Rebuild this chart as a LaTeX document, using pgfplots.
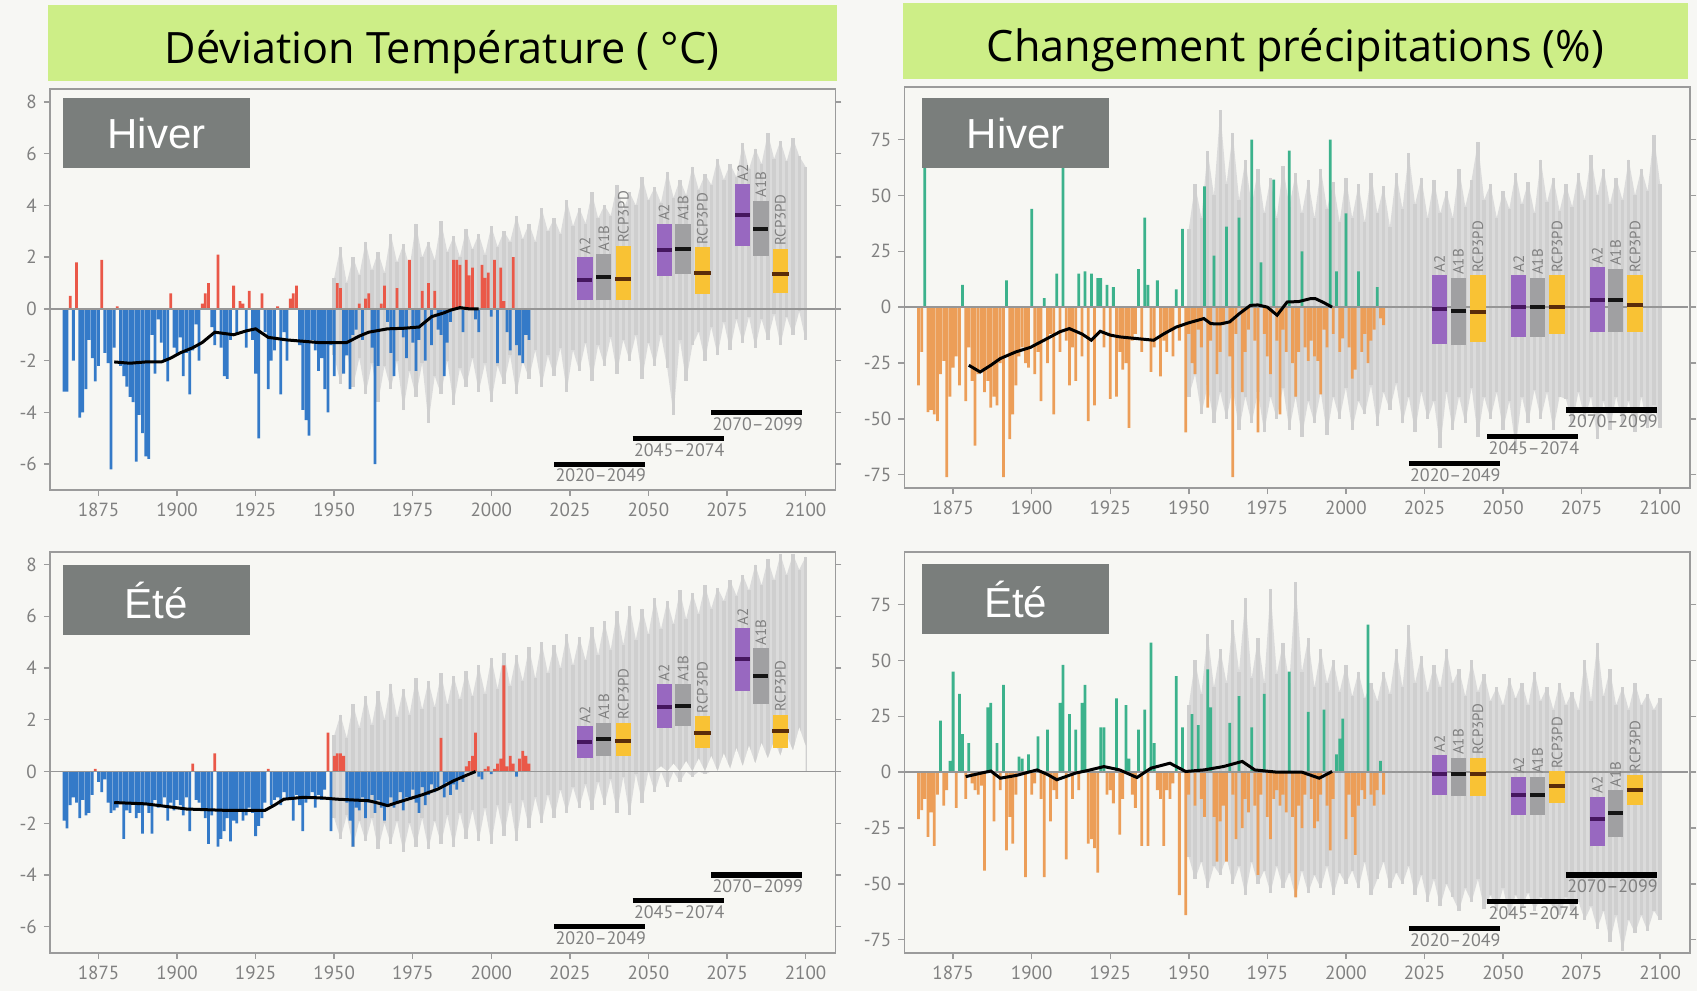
\documentclass[border=0pt]{standalone}
\usepackage{fontspec}
\setmainfont{PT Sans}
\newfontfamily\headfont{Open Sans}
\newfontfamily\labfont{Liberation Sans}
\usepackage{pgfplots}
\pgfplotsset{compat=1.18}
\usepackage{pgfplotstable}

\definecolor{pagebg}{RGB}{247,247,244}
\definecolor{bgc}{RGB}{247,247,243}
\definecolor{framec}{RGB}{155,155,155}
\definecolor{tickc}{RGB}{128,128,128}
\definecolor{headgreen}{RGB}{205,238,135}
\definecolor{labbox}{RGB}{122,126,124}
\definecolor{warm}{RGB}{234,88,72}
\definecolor{cold}{RGB}{52,122,200}
\definecolor{wet}{RGB}{60,178,140}
\definecolor{dry}{RGB}{236,158,88}
\definecolor{ensl}{RGB}{219,219,219}
\definecolor{ensd}{RGB}{207,207,207}
\definecolor{zeroc}{RGB}{150,150,150}
\definecolor{bA2}{RGB}{152,104,192}
\definecolor{mA2}{RGB}{70,22,95}
\definecolor{bA1B}{RGB}{160,160,162}
\definecolor{mA1B}{RGB}{20,20,20}
\definecolor{bRCP}{RGB}{249,194,52}
\definecolor{mRCP}{RGB}{90,45,10}

% observed seasonal anomalies: temperature (winter, summer), precipitation (winter, summer)
\pgfplotstableread{
yr th te ph pe
1864 -3.2 -1.9 -35 -21
1865 -3.2 -2.2 -20 -17
1866 0.5 -1.3 68 -12
1867 -2.0 -1.0 -47 -29
1868 1.8 -1.2 -46 -18
1869 -4.2 -1.8 -48 -33
1870 -4.0 -1.1 -51 -10
1871 -3.1 -1.7 -30 23
1872 -1.2 -1.6 -24 -15
1873 -1.9 -0.9 -76 -8
1874 -2.8 0.1 -40 5
1875 -2.2 -0.4 -27 45
1876 1.9 -0.8 -22 -16
1877 -1.7 -0.3 -35 35
1878 -2.1 -1.2 10 17
1879 -6.2 -1.6 -42 -12
1880 -1.5 -1.5 -18 13
1881 0.1 -1.4 -33 -5
1882 -2.2 -1.2 -62 -8
1883 -2.6 -2.6 -30 -10
1884 -3.0 -1.5 -28 -6
1885 -3.4 -1.6 -38 -44
1886 -3.6 -1.2 -33 29
1887 -5.9 -1.8 -45 31
1888 -4.1 -1.6 -40 -22
1889 -4.8 -2.4 -44 13
1890 -5.7 -1.3 -25 -8
1891 -5.8 -1.6 -76 39
1892 -1.0 -2.4 12 -35
1893 -2.5 -1.1 -59 -20
1894 -0.4 -1.4 -48 -32
1895 -1.3 -1.3 -35 -10
1896 -2.0 -1.0 -22 7
1897 -2.8 -1.9 -18 6
1898 0.6 -1.2 -25 -47
1899 -1.5 -1.5 -27 8
1900 -1.8 -1.1 44 -10
1901 -1.1 -1.3 -30 -5
1902 -2.6 -1.7 -20 16
1903 -1.7 -1.0 -42 -12
1904 -3.3 -2.3 4 -47
1905 -1.6 0.3 -25 19
1906 -0.6 -1.1 -12 -22
1907 -2.0 -1.2 -48 -8
1908 0.2 -1.5 15 -12
1909 0.6 -1.8 -20 31
1910 1.0 -2.8 64 48
1911 -0.7 -1.7 -15 -39
1912 -1.4 0.7 -35 26
1913 2.1 -2.9 -18 -12
1914 -1.5 -2.6 -33 19
1915 -2.6 -2.3 15 -8
1916 -2.7 -1.8 -22 31
1917 -1.2 -2.7 16 39
1918 0.9 -1.9 -51 -32
1919 -1.0 -2.0 15 -30
1920 0.3 -1.5 -44 -34
1921 0.2 -1.9 13 -45
1922 -1.5 -1.7 13 20
1923 0.7 -1.4 -18 20
1924 -1.2 -1.6 10 -10
1925 -2.5 -2.5 -41 -8
1926 -5.0 -2.1 9 -14
1927 0.6 -1.8 -40 33
1928 -0.9 -1.2 -20 -28
1929 -3.1 0.1 -28 -12
1930 -2.0 -1.3 -25 30
1931 -1.6 -1.1 -54 6
1932 0.1 -1.0 -15 -10
1933 -3.3 -1.3 -12 -16
1934 -0.9 -0.8 17 19
1935 -2.0 -1.1 -20 -33
1936 0.4 -1.0 40 28
1937 0.6 -1.9 10 -33
1938 0.9 -0.9 -29 58
1939 -1.4 -1.3 -18 13
1940 -3.9 -2.3 12 -8
1941 -4.3 -1.2 -31 -12
1942 -4.9 -1.0 -15 -33
1943 -1.2 -0.8 -20 -8
1944 -1.6 -1.4 -10 -12
1945 -2.4 -0.9 -22 -5
1946 -1.9 -1.1 8 43
1947 -3.1 -0.7 -15 -55
1948 -4.0 1.5 35 20
1949 -1.4 -2.3 -56 -64
1950 -2.6 0.6 -12 -10
1951 1.0 0.7 -25 26
1952 0.8 0.7 -30 -15
1953 -2.5 0.6 -10 21
1954 -1.8 -1.2 -18 -12
1955 -3.1 -1.9 54 -20
1956 -1.0 -2.9 -45 46
1957 -0.8 -1.4 -15 29
1958 0.2 -1.5 23 -20
1959 -1.2 -1.0 -30 -40
1960 0.4 -1.8 -20 -22
1961 0.6 -1.2 -8 -15
1962 -1.5 -0.9 36 -40
1963 -6.0 -1.6 -22 22
1964 -2.2 -1.1 -76 -10
1965 0.2 -1.4 -12 -30
1966 0.9 -1.9 40 34
1967 -0.5 -1.3 -38 -25
1968 -1.7 -1.0 -20 -12
1969 -2.6 -1.4 -10 -18
1970 0.8 -1.2 75 20
1971 -0.8 -0.8 -15 -15
1972 -1.1 -1.5 -56 -46
1973 -1.9 -1.0 20 -10
1974 1.9 -1.1 -12 35
1975 -1.3 -0.7 -22 -20
1976 -2.4 -1.2 -30 -30
1977 -1.2 -1.6 57 -12
1978 0.7 -0.6 -15 -8
1979 -2.0 -1.3 -48 -15
1980 1.0 -0.9 -10 -10
1981 -1.4 -0.5 -20 -18
1982 0.7 -0.8 70 45
1983 -0.8 -0.6 -25 -20
1984 -1.0 1.3 -40 -56
1985 -2.6 -1.0 -20 -15
1986 -1.3 -0.4 25 -25
1987 -0.5 -0.9 -18 -10
1988 1.9 -0.5 -24 27
1989 1.9 -0.7 -15 -12
1990 1.7 -0.3 -22 -25
1991 -0.9 -0.4 -24 -22
1992 1.9 0.2 -39 -10
1993 1.3 0.4 -10 28
1994 1.6 0.6 -18 -15
1995 -0.4 1.5 75 -35
1996 -0.9 -0.2 -12 -12
1997 1.7 -0.3 16 8
1998 1.2 0.1 -20 15
1999 1.4 0.2 -14 24
2000 -0.3 -0.1 42 -30
2001 1.9 0.1 -18 -10
2002 -2.1 0.3 -32 -20
2003 1.6 0.5 -28 -37
2004 0.3 4.1 16 -15
2005 -0.9 0.2 -20 -8
2006 -1.6 0.6 -12 -12
2007 2.0 0.3 -25 66
2008 -1.4 -0.2 -15 -10
2009 -1.8 0.5 -10 -15
2010 -2.1 0.8 9 -8
2011 -1.0 0.6 -5 5
2012 -1.2 0.3 -8 -10
}\obs

% model ensemble envelopes (upper / lower)
\pgfplotstableread{
yr up lo
1950 1.2 -1.8
1952 2.4 -2.9
1954 1.0 -1.6
1956 2.0 -3.0
1958 1.3 -1.9
1960 2.6 -3.3
1962 1.5 -2.1
1964 2.2 -3.6
1966 1.4 -2.2
1968 2.9 -3.1
1970 1.8 -2.0
1972 2.5 -3.9
1974 1.6 -2.4
1976 3.3 -3.4
1978 2.0 -2.1
1980 2.6 -4.4
1982 1.9 -2.6
1984 3.4 -3.3
1986 2.2 -2.0
1988 2.8 -3.7
1990 2.0 -2.3
1992 3.1 -3.0
1994 2.3 -1.9
1996 2.9 -3.2
1998 2.1 -2.1
2000 3.2 -3.6
2002 2.4 -2.2
2004 3.0 -2.9
2006 2.6 -1.8
2008 3.6 -3.3
2010 2.7 -2.0
2012 3.3 -2.7
2014 2.6 -1.6
2016 3.9 -3.0
2018 3.0 -1.8
2020 3.5 -2.6
2022 2.9 -1.5
2024 4.2 -3.2
2026 3.2 -1.6
2028 3.9 -2.4
2030 3.3 -1.3
2032 4.5 -2.8
2034 3.5 -1.4
2036 4.0 -2.2
2038 3.6 -1.1
2040 4.8 -2.5
2042 3.8 -1.2
2044 4.5 -2.0
2046 4.0 -1.0
2048 5.1 -2.7
2050 4.2 -1.3
2052 4.7 -2.2
2054 4.1 -1.0
2056 5.3 -2.3
2058 4.3 -4.1
2060 5.0 -1.2
2062 4.4 -2.8
2064 5.5 -1.4
2066 4.6 -0.9
2068 5.2 -2.0
2070 4.8 -0.7
2072 5.8 -1.8
2074 5.0 -0.5
2076 5.6 -1.6
2078 5.1 -0.4
2080 6.4 -1.3
2082 5.4 -0.3
2084 6.2 -1.5
2086 5.6 -0.4
2088 6.8 -1.2
2090 5.8 -0.2
2092 6.5 -1.4
2094 5.7 -0.3
2096 6.6 -1.0
2098 5.9 -0.1
2100 5.5 -1.2
}\gth

\pgfplotstableread{
yr up lo
1950 1.4 -1.8
1952 2.2 -2.6
1954 1.3 -1.7
1956 2.6 -2.9
1958 1.7 -1.9
1960 2.9 -2.7
1962 1.8 -1.8
1964 3.1 -3.0
1966 2.0 -2.0
1968 3.4 -2.8
1970 2.1 -1.9
1972 3.2 -3.1
1974 2.2 -2.0
1976 3.6 -2.9
1978 2.4 -1.8
1980 3.5 -3.0
1982 2.5 -1.9
1984 3.8 -2.8
1986 2.6 -1.7
1988 3.7 -2.9
1990 2.8 -1.6
1992 3.9 -2.6
1994 2.9 -1.5
1996 4.1 -2.7
1998 3.0 -1.4
2000 4.4 -2.8
2002 3.2 -1.3
2004 4.6 -2.5
2006 3.3 -1.2
2008 4.5 -2.7
2010 3.5 -1.1
2012 4.8 -2.2
2014 3.6 -1.0
2016 5.0 -2.0
2018 3.8 -0.9
2020 4.9 -1.8
2022 4.0 -0.7
2024 5.3 -1.6
2026 4.1 -0.6
2028 5.2 -1.4
2030 4.3 -0.5
2032 5.6 -1.5
2034 4.5 -0.4
2036 5.8 -1.3
2038 4.7 -0.3
2040 6.2 -1.6
2042 4.9 -0.2
2044 6.4 -1.7
2046 5.1 -0.1
2048 6.3 -1.2
2050 5.3 0.0
2052 6.7 -0.8
2054 5.5 0.2
2056 6.6 -0.6
2058 5.7 0.3
2060 7.0 -0.4
2062 5.9 0.4
2064 6.9 -0.2
2066 6.1 0.5
2068 7.2 -0.1
2070 6.3 0.6
2072 7.1 0.0
2074 6.6 0.7
2076 7.4 0.1
2078 6.8 0.9
2080 7.6 0.2
2082 7.0 1.0
2084 8.0 0.3
2086 7.2 1.1
2088 8.2 0.5
2090 7.4 1.2
2092 8.4 0.6
2094 7.6 1.4
2096 8.4 0.8
2098 7.8 1.7
2100 8.3 1.0
}\gte

\pgfplotstableread{
yr up lo
1950 35 -40
1952 55 -30
1954 40 -48
1956 70 -35
1958 50 -52
1960 88 -38
1962 55 -50
1964 78 -36
1966 48 -55
1968 66 -40
1970 45 -52
1972 62 -38
1974 42 -56
1976 58 -40
1978 40 -50
1980 63 -36
1982 45 -55
1984 60 -40
1986 42 -58
1988 57 -42
1990 40 -52
1992 62 -38
1994 44 -57
1996 56 -40
1998 38 -50
2000 58 -36
2002 40 -55
2004 55 -42
2006 38 -48
2008 60 -35
2010 42 -53
2012 54 -38
2014 36 -46
2016 60 -34
2018 44 -52
2020 69 -40
2022 46 -56
2024 58 -38
2026 40 -50
2028 57 -42
2030 42 -63
2032 52 -38
2034 40 -55
2036 62 -40
2038 45 -52
2040 57 -36
2042 74 -58
2044 48 -40
2046 55 -50
2048 40 -38
2050 52 -55
2052 44 -42
2054 60 -63
2056 46 -40
2058 56 -52
2060 42 -37
2062 66 -50
2064 47 -38
2066 58 -55
2068 43 -40
2070 55 -41
2072 45 -52
2074 60 -38
2076 48 -50
2078 68 -40
2080 50 -59
2082 62 -42
2084 46 -55
2086 58 -40
2088 48 -52
2090 66 -42
2092 50 -56
2094 62 -40
2096 52 -54
2098 77 -44
2100 55 -54
}\gph

\pgfplotstableread{
yr up lo
1950 30 -38
1952 50 -48
1954 35 -40
1956 62 -52
1958 38 -42
1960 55 -46
1962 40 -38
1964 68 -50
1966 45 -42
1968 78 -55
1970 42 -40
1972 60 -50
1974 40 -44
1976 82 -54
1978 44 -42
1980 58 -52
1982 40 -45
1984 85 -56
1986 45 -44
1988 60 -54
1990 38 -46
1992 55 -52
1994 40 -42
1996 50 -55
1998 36 -45
2000 48 -50
2002 34 -44
2004 45 -52
2006 33 -40
2008 40 -55
2010 32 -48
2012 45 -40
2014 35 -52
2016 55 -45
2018 38 -50
2020 66 -42
2022 40 -55
2024 52 -46
2026 36 -58
2028 48 -48
2030 38 -60
2032 55 -50
2034 40 -56
2036 46 -62
2038 34 -52
2040 50 -58
2042 36 -48
2044 44 -61
2046 32 -55
2048 38 -62
2050 30 -52
2052 42 -64
2054 33 -55
2056 40 -60
2058 30 -54
2060 45 -62
2062 32 -56
2064 38 -58
2066 28 -60
2068 40 -64
2070 30 -56
2072 36 -62
2074 28 -58
2076 50 -66
2078 32 -60
2080 58 -70
2082 34 -62
2084 46 -76
2086 30 -64
2088 38 -80
2090 28 -66
2092 40 -72
2094 30 -64
2096 35 -71
2098 28 -62
2100 33 -66
}\gpe

% ensemble band: light area between the envelopes, darker streaks on top,
% and the part between zero and a positive lower envelope wiped out again
\newcommand{\band}[1]{%
  \addplot[fill=ensl, draw=none] table[x=yr, y=up] {#1} \closedcycle;
  \addplot[fill=ensl, draw=none, y filter/.expression={y<0 ? y : 0}] table[x=yr, y=lo] {#1} \closedcycle;
  \addplot[ycomb, draw=ensd, line width=1.7pt] table[x=yr, y=up] {#1};
  \addplot[ycomb, draw=ensd, line width=1.7pt, y filter/.expression={y<0 ? y : 0}] table[x=yr, y=lo] {#1};
  \addplot[fill=bgc, draw=none, y filter/.expression={y>0 ? y : 0}] table[x=yr, y=lo] {#1} \closedcycle;
}
% box: fill, median colour, x left, x right, low, high, median, label, centre
\newcommand{\bx}[9]{%
  \addplot[draw=#1, line width=7.6pt] coordinates {(#9,#5) (#9,#6)};
  \addplot[draw=#2, line width=2pt] coordinates {(#3,#7) (#4,#7)};
  \node[rotate=90, anchor=west, inner sep=1.2pt, text=tickc, font=\fontsize{7.5}{7.5}\selectfont] at (axis cs:#9,#6) {#8};
}
% period bar: start, end, y, label
\newcommand{\per}[4]{%
  \addplot[black, line width=2.6pt] coordinates {(#1,#3) (#2,#3)};
  \node[anchor=north west, inner sep=0.5pt, yshift=-1.8pt, text=tickc, font=\fontsize{9}{9}\selectfont] at (axis cs:#1,#3) {#4};
}

\pgfplotsset{
  panel/.style={
    scale only axis, width=392.8pt, height=200.5pt,
    anchor=south west,
    axis background/.style={fill=bgc},
    axis line style={draw=framec, line width=0.9pt},
    every tick/.style={draw=framec, line width=0.7pt},
    tick align=outside, major tick length=3pt,
    xtick pos=left,
    xmin=1859.5, xmax=2109.5,
    xtick={1875,1900,...,2100},
    tick label style={text=tickc, font=\fontsize{9.5}{10}\selectfont},
    /pgf/number format/assume math mode=true,
    x tick label style={/pgf/number format/1000 sep={}},
    clip=true,
  },
  tpanel/.style={panel, ymin=-7.0, ymax=8.5, ytick={-6,-4,...,8}},
  ppanel/.style={panel, ymin=-81, ymax=98.4, ytick={-75,-50,...,75}},
  pos/.style={ybar, bar width=0.88, draw=none, y filter/.expression={y>0 ? y : nan}},
  neg/.style={ybar, bar width=0.88, draw=none, y filter/.expression={y<0 ? y : nan}},
}

\begin{document}
\begin{tikzpicture}
\fill[pagebg] (0,0) rectangle (848.5pt,495.5pt);

% ---------- temperature, winter
\begin{axis}[tpanel, at={(24.9pt,250.5pt)}]
\band{\gth}
\addplot[pos, fill=warm] table[x=yr, y=th] {\obs};
\addplot[neg, fill=cold] table[x=yr, y=th] {\obs};
\addplot[zeroc, line width=0.8pt] coordinates {(1859.5,0) (2109.5,0)};
\addplot[black, line width=1.5pt] coordinates {(1880,-2.05) (1885,-2.1) (1890,-2.05) (1895,-2.05) (1898,-1.9) (1901,-1.7) (1905,-1.5) (1908,-1.3) (1912,-0.9) (1915,-0.95) (1918,-1.0) (1922,-0.85) (1925,-0.77) (1929,-1.1) (1935,-1.2) (1940,-1.25) (1945,-1.3) (1950,-1.3) (1954,-1.3) (1958,-1.05) (1961,-0.9) (1967,-0.77) (1972,-0.75) (1977,-0.7) (1981,-0.3) (1985,-0.15) (1987,-0.05) (1990,0.05) (1993,0.0) (1996,0.0)};
\bx{bA2}{mA2}{2027.4}{2032.2}{0.33}{2.0}{1.10}{A2}{2029.8}
\bx{bA1B}{mA1B}{2033.4}{2038.2}{0.33}{2.13}{1.23}{A1B}{2035.8}
\bx{bRCP}{mRCP}{2039.4}{2044.6}{0.33}{2.45}{1.14}{RCP3PD}{2042.0}
\bx{bA2}{mA2}{2052.6}{2057.4}{1.29}{3.29}{2.26}{A2}{2055.0}
\bx{bA1B}{mA1B}{2058.6}{2063.4}{1.35}{3.29}{2.32}{A1B}{2061.0}
\bx{bRCP}{mRCP}{2064.6}{2069.8}{0.59}{2.38}{1.38}{RCP3PD}{2067.2}
\bx{bA2}{mA2}{2077.6}{2082.4}{2.45}{4.83}{3.63}{A2}{2080.0}
\bx{bA1B}{mA1B}{2083.4}{2088.2}{2.06}{4.19}{3.09}{A1B}{2085.8}
\bx{bRCP}{mRCP}{2089.4}{2094.6}{0.60}{2.33}{1.33}{RCP3PD}{2092.0}
\per{2020}{2049}{-6}{2020–2049}
\per{2045}{2074}{-5}{2045–2074}
\per{2070}{2099}{-4}{2070–2099}
\end{axis}

% ---------- precipitation, winter
\begin{axis}[ppanel, at={(452.2pt,251.4pt)}]
\band{\gph}
\addplot[pos, fill=wet] table[x=yr, y=ph] {\obs};
\addplot[neg, fill=dry] table[x=yr, y=ph] {\obs};
\addplot[zeroc, line width=0.8pt] coordinates {(1859,0) (2109,0)};
\addplot[black, line width=1.5pt] coordinates {(1880,-26) (1883.6,-29) (1887,-26) (1890,-23) (1895,-20) (1899.6,-18) (1905,-14) (1909,-11) (1912,-9.6) (1916,-12) (1919,-14.8) (1921.8,-10.8) (1925,-12.5) (1928,-13.3) (1933,-14) (1938.8,-14.8) (1942,-12) (1946,-8.9) (1950,-7) (1954.8,-5.1) (1957,-7.4) (1960,-7.5) (1963,-6.6) (1966,-3) (1969.6,0.8) (1972,1) (1975,0) (1978.1,-3.6) (1981.3,2.3) (1985,2.5) (1988.7,3.8) (1990.3,3.8) (1993,2) (1995.6,0)};
\bx{bA2}{mA2}{2027.4}{2032.2}{-16.3}{14.2}{-0.7}{A2}{2029.8}
\bx{bA1B}{mA1B}{2033.4}{2038.2}{-17.0}{13.2}{-1.9}{A1B}{2035.8}
\bx{bRCP}{mRCP}{2039.4}{2044.6}{-15.6}{14.2}{-2.2}{RCP3PD}{2042.0}
\bx{bA2}{mA2}{2052.6}{2057.4}{-13.3}{14.2}{0}{A2}{2055.0}
\bx{bA1B}{mA1B}{2058.6}{2063.4}{-13.3}{13.2}{0}{A1B}{2061.0}
\bx{bRCP}{mRCP}{2064.6}{2069.8}{-11.8}{14.2}{0}{RCP3PD}{2067.2}
\bx{bA2}{mA2}{2077.6}{2082.4}{-11.1}{17.9}{3.0}{A2}{2080.0}
\bx{bA1B}{mA1B}{2083.4}{2088.2}{-11.1}{17.2}{3.4}{A1B}{2085.8}
\bx{bRCP}{mRCP}{2089.4}{2094.6}{-11.1}{14.2}{1.1}{RCP3PD}{2092.0}
\per{2020}{2049}{-70}{2020–2049}
\per{2045}{2074}{-58}{2045–2074}
\per{2070}{2099}{-46}{2070–2099}
\end{axis}

% ---------- temperature, summer
\begin{axis}[tpanel, at={(24.9pt,19.2pt)}]
\band{\gte}
\addplot[pos, fill=warm] table[x=yr, y=te] {\obs};
\addplot[neg, fill=cold] table[x=yr, y=te] {\obs};
\addplot[zeroc, line width=0.8pt] coordinates {(1859.5,0) (2109.5,0)};
\addplot[black, line width=1.5pt] coordinates {(1880,-1.2) (1890,-1.25) (1903,-1.45) (1915,-1.5) (1928,-1.5) (1931,-1.3) (1934,-1.07) (1940,-1.0) (1946,-1.02) (1951,-1.07) (1956,-1.1) (1961,-1.13) (1965,-1.25) (1967,-1.32) (1970,-1.2) (1973.5,-1.07) (1978,-0.9) (1983,-0.68) (1988,-0.36) (1992,-0.15) (1995,0)};
\bx{bA2}{mA2}{2027.4}{2032.2}{0.53}{1.76}{1.14}{A2}{2029.8}
\bx{bA1B}{mA1B}{2033.4}{2038.2}{0.60}{1.89}{1.25}{A1B}{2035.8}
\bx{bRCP}{mRCP}{2039.4}{2044.6}{0.60}{1.89}{1.18}{RCP3PD}{2042.0}
\bx{bA2}{mA2}{2052.6}{2057.4}{1.69}{3.37}{2.50}{A2}{2055.0}
\bx{bA1B}{mA1B}{2058.6}{2063.4}{1.76}{3.37}{2.55}{A1B}{2061.0}
\bx{bRCP}{mRCP}{2064.6}{2069.8}{0.92}{2.15}{1.50}{RCP3PD}{2067.2}
\bx{bA2}{mA2}{2077.6}{2082.4}{3.10}{5.55}{4.33}{A2}{2080.0}
\bx{bA1B}{mA1B}{2083.4}{2088.2}{2.60}{4.78}{3.69}{A1B}{2085.8}
\bx{bRCP}{mRCP}{2089.4}{2094.6}{0.92}{2.20}{1.55}{RCP3PD}{2092.0}
\per{2020}{2049}{-6}{2020–2049}
\per{2045}{2074}{-5}{2045–2074}
\per{2070}{2099}{-4}{2070–2099}
\end{axis}

% ---------- precipitation, summer
\begin{axis}[ppanel, at={(452.2pt,18.9pt)}]
\band{\gpe}
\addplot[pos, fill=wet] table[x=yr, y=pe] {\obs};
\addplot[neg, fill=dry] table[x=yr, y=pe] {\obs};
\addplot[zeroc, line width=0.8pt] coordinates {(1859,0) (2109,0)};
\addplot[black, line width=1.5pt] coordinates {(1879,-2) (1884,-0.4) (1887,0.5) (1890,-2.7) (1895,-1.5) (1901.7,1) (1905,-1) (1908,-3.4) (1914,-0.4) (1918,0.8) (1923,2.5) (1928,1) (1933.5,-2.4) (1938,1.8) (1944,4) (1949,0.3) (1954.8,1) (1961,2.5) (1967,4.8) (1971,1) (1978,0) (1986,0) (1991.5,-2.7) (1995.6,0.3)};
\bx{bA2}{mA2}{2027.4}{2032.2}{-10.2}{7.7}{-0.8}{A2}{2029.8}
\bx{bA1B}{mA1B}{2033.4}{2038.2}{-10.6}{6.5}{-0.8}{A1B}{2035.8}
\bx{bRCP}{mRCP}{2039.4}{2044.6}{-10.6}{6.5}{-0.8}{RCP3PD}{2042.0}
\bx{bA2}{mA2}{2052.6}{2057.4}{-19.1}{-2.0}{-10.1}{A2}{2055.0}
\bx{bA1B}{mA1B}{2058.6}{2063.4}{-19.0}{-2.0}{-10.0}{A1B}{2061.0}
\bx{bRCP}{mRCP}{2064.6}{2069.8}{-13.9}{0.3}{-6.1}{RCP3PD}{2067.2}
\bx{bA2}{mA2}{2077.6}{2082.4}{-33.2}{-10.9}{-21.1}{A2}{2080.0}
\bx{bA1B}{mA1B}{2083.4}{2088.2}{-28.8}{-7.9}{-18.3}{A1B}{2085.8}
\bx{bRCP}{mRCP}{2089.4}{2094.6}{-14.6}{-1.2}{-7.9}{RCP3PD}{2092.0}
\per{2020}{2049}{-70}{2020–2049}
\per{2045}{2074}{-58}{2045–2074}
\per{2070}{2099}{-46}{2070–2099}
\end{axis}

% ---------- column headers and season labels
\fill[headgreen] (23.8pt,454.9pt) rectangle (418.3pt,492.8pt);
\fill[headgreen] (451.3pt,456.0pt) rectangle (844.2pt,493.9pt);
\node[font=\headfont\fontsize{21.6}{24}\selectfont, text=black] at (221.0pt,469.5pt) {Déviation Température ( °C)};
\node[font=\headfont\fontsize{21.6}{24}\selectfont, text=black] at (647.7pt,470.5pt) {Changement précipitations (\%)};

\fill[labbox] (31.4pt,411.6pt) rectangle (125.0pt,446.3pt);
\fill[labbox] (461.0pt,411.6pt) rectangle (554.7pt,446.3pt);
\fill[labbox] (31.4pt,177.8pt) rectangle (125.0pt,213.0pt);
\fill[labbox] (461.0pt,178.3pt) rectangle (554.7pt,213.5pt);
\node[font=\labfont\fontsize{21}{24}\selectfont, text=white] at (78.2pt,428.9pt) {Hiver};
\node[font=\labfont\fontsize{21}{24}\selectfont, text=white] at (507.9pt,428.9pt) {Hiver};
\node[font=\labfont\fontsize{21}{24}\selectfont, text=white] at (78.2pt,195.4pt) {Été};
\node[font=\labfont\fontsize{21}{24}\selectfont, text=white] at (507.9pt,195.9pt) {Été};
\end{tikzpicture}
\end{document}
